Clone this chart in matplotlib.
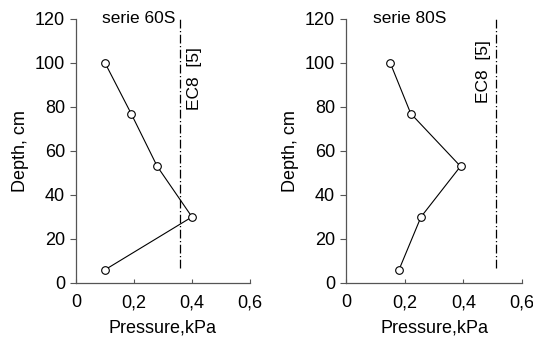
import matplotlib.pyplot as plt

plt.rcParams['font.family'] = ['Liberation Sans', 'DejaVu Sans']

# pressure profiles, series 60S and 80S
depth_60 = [100, 77, 53, 30, 6]
pressure_60 = [0.10, 0.19, 0.28, 0.40, 0.10]
depth_80 = [100, 77, 53, 30, 6]
pressure_80 = [0.15, 0.22, 0.39, 0.255, 0.18]

# EC8 reference pressures
ec8_60 = 0.36
ec8_80 = 0.51
ec8_depth = [7, 120]

x_ticks = [0, 0.2, 0.4, 0.6]
x_labels = ['0', '0,2', '0,4', '0,6']
y_ticks = [0, 20, 40, 60, 80, 100, 120]

fig = plt.figure(figsize=(5.33, 3.43), dpi=100)
ax1 = fig.add_axes([0.1426, 0.175, 0.3264, 0.77])
ax2 = fig.add_axes([0.6497, 0.175, 0.3297, 0.77])

panels = [
    (ax1, pressure_60, depth_60, ec8_60, 'serie 60S', 0.088, 0.41, 93),
    (ax2, pressure_80, depth_80, ec8_80, 'serie 80S', 0.092, 0.467, 96),
]

for ax, p, d, ec8, title, tx, ex, ey in panels:
    ax.plot(p, d, color='black', lw=0.8, marker='o', ms=5.5,
            mfc='white', mec='black', mew=0.8, zorder=3)
    ax.plot([ec8, ec8], ec8_depth, color='black', lw=0.9,
            linestyle=(0, (7, 2, 1, 2)))
    ax.text(tx, 120, title, fontsize=12.5, va='center', ha='left')
    ax.text(ex, ey, 'EC8  [5]', fontsize=12.5, rotation=90,
            va='center', ha='center')

    ax.set_xlim(0, 0.6)
    ax.set_ylim(0, 120)
    ax.set_xticks(x_ticks)
    ax.set_xticklabels(x_labels)
    ax.set_yticks(y_ticks)
    ax.spines['top'].set_visible(False)
    ax.spines['right'].set_visible(False)
    for s in ('left', 'bottom'):
        ax.spines[s].set_color('#555555')
        ax.spines[s].set_linewidth(0.9)
    ax.tick_params(axis='x', direction='in', length=3, pad=8,
                   labelsize=13, color='#555555')
    ax.tick_params(axis='y', direction='out', length=4, pad=4,
                   labelsize=13, color='#555555')
    ax.set_xlabel('Pressure,kPa', fontsize=13, labelpad=6)
    ax.set_ylabel('Depth, cm', fontsize=13, labelpad=4)

fig.savefig('out.png', dpi=100)
